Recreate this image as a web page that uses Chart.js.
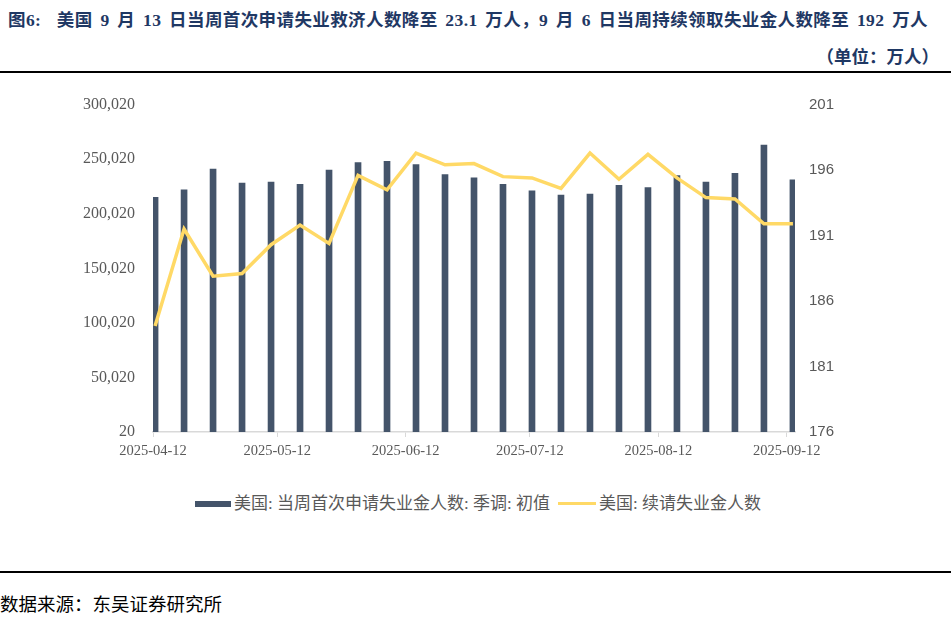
<!DOCTYPE html>
<html>
<head>
<meta charset="utf-8">
<script src="https://cdn.jsdelivr.net/npm/chart.js@4.4.1/dist/chart.umd.min.js"></script>
<style>
  body { margin: 0; width: 951px; height: 617px; background: #fff; position: relative; overflow: hidden; font-family: "Liberation Serif", "Noto Sans CJK SC", serif; }
  .title { position: absolute; left: 8px; top: 6px; font-size: 17.5px; font-weight: bold; color: #1f3864; white-space: nowrap; word-spacing: 3px; letter-spacing: 0.4px; }
  .unit { position: absolute; right: 12px; top: 43px; font-size: 17.5px; font-weight: bold; color: #1f3864; white-space: nowrap; }
  .rule { position: absolute; left: 0; width: 951px; height: 2px; background: #000; }
  #wrap { position: absolute; left: 0; top: 77px; width: 951px; height: 393px; }
  .legend { position: absolute; top: 494px; left: 0; height: 20px; font-size: 17px; color: #595959; white-space: nowrap; }
  .lg-item { position: absolute; top: 0; line-height: 20px; }
  .src { position: absolute; left: 0; top: 590px; font-size: 18.5px; color: #000; white-space: nowrap; font-family: "Noto Sans CJK SC", sans-serif; }
</style>
</head>
<body>
<div class="title">图6:&nbsp; 美国 9 月 13 日当周首次申请失业救济人数降至 23.1 万人，9 月 6 日当周持续领取失业金人数降至 192 万人</div>
<div class="unit">（单位：万人）</div>
<div class="rule" style="top:71px"></div>
<div id="wrap"><canvas id="chart"></canvas></div>
<div class="legend">
  <div style="position:absolute;left:195px;top:7px;width:36px;height:6px;background:#44546a"></div>
  <div class="lg-item" style="left:234px">美国: 当周首次申请失业金人数: 季调: 初值</div>
  <div style="position:absolute;left:558px;top:8px;width:38px;height:3px;background:#ffd966"></div>
  <div class="lg-item" style="left:599px">美国: 续请失业金人数</div>
</div>
<div class="rule" style="top:571px"></div>
<div class="src">数据来源：东吴证券研究所</div>

<script>
// weekly observations, days after 2025-04-12 (bars centred in the day slot)
const weekDays = [0,7,14,21,28,35,42,49,56,63,70,77,84,91,98,105,112,119,126,133,140,147,154];
const initialClaims = [215000,222000,241000,228000,229000,227000,240000,247000,248000,245000,236000,233000,227000,221000,217000,218000,226000,224000,235000,229000,237000,263000,231000];
const continuingClaims = [184.1,191.5,187.9,188.1,190.3,191.8,190.4,195.6,194.5,197.3,196.4,196.5,195.5,195.4,194.6,197.3,195.3,197.2,195.4,193.9,193.8,191.9,191.9];

const xTickDays = [0,30,61,91,122,153];
const xTickLabels = ['2025-04-12','2025-05-12','2025-06-12','2025-07-12','2025-08-12','2025-09-12'];
const leftTicks = [20,50020,100020,150020,200020,250020,300020];
const rightTicks = [176,181,186,191,196,201];

const tickColor = '#595959';

new Chart(document.getElementById('chart'), {
  type: 'bar',
  data: {
    datasets: [
      {
        type: 'line',
        label: '美国: 续请失业金人数',
        data: continuingClaims.map((v, i) => ({ x: weekDays[i] + 0.5, y: v })),
        yAxisID: 'y1',
        borderColor: '#ffd966',
        borderWidth: 3.5,
        pointRadius: 0,
        tension: 0,
        order: 0
      },
      {
        label: '美国: 当周首次申请失业金人数: 季调: 初值',
        data: initialClaims.map((v, i) => ({ x: weekDays[i] + 0.5, y: v })),
        yAxisID: 'y',
        backgroundColor: '#44546a',
        barThickness: 6,
        order: 1
      }
    ]
  },
  options: {
    responsive: true,
    maintainAspectRatio: false,
    animation: false,
    layout: { padding: { top: 20, bottom: 0, left: 0, right: 0 } },
    plugins: { legend: { display: false }, tooltip: { enabled: false } },
    scales: {
      x: {
        type: 'linear',
        min: 0,
        max: 155,
        offset: false,
        afterBuildTicks: s => { s.ticks = xTickDays.map(v => ({ value: v })); },
        afterFit: s => { s.height = 38; },
        grid: { display: true, offset: false, drawOnChartArea: false, drawTicks: true, tickLength: 5, color: '#d9d9d9', lineWidth: 1 },
        border: { display: true, color: '#d9d9d9', width: 1.5 },
        ticks: {
          autoSkip: false,
          maxRotation: 0,
          padding: 5,
          color: tickColor,
          font: { family: 'Liberation Serif', size: 14.5 },
          callback: v => xTickLabels[xTickDays.indexOf(v)]
        }
      },
      y: {
        position: 'left',
        min: 20,
        max: 300020,
        afterBuildTicks: s => { s.ticks = leftTicks.map(v => ({ value: v })); },
        afterFit: s => { s.width = 153; },
        grid: { display: false, drawTicks: false },
        border: { display: false },
        ticks: {
          padding: 18,
          color: tickColor,
          font: { family: 'Liberation Serif', size: 16 },
          callback: v => v.toLocaleString('en-US')
        }
      },
      y1: {
        position: 'right',
        min: 176,
        max: 201,
        afterBuildTicks: s => { s.ticks = rightTicks.map(v => ({ value: v })); },
        afterFit: s => { s.width = 156; },
        grid: { display: false, drawTicks: false },
        border: { display: false },
        ticks: {
          padding: 14,
          color: tickColor,
          font: { family: 'Liberation Sans', size: 15 }
        }
      }
    }
  }
});
</script>
</body>
</html>
